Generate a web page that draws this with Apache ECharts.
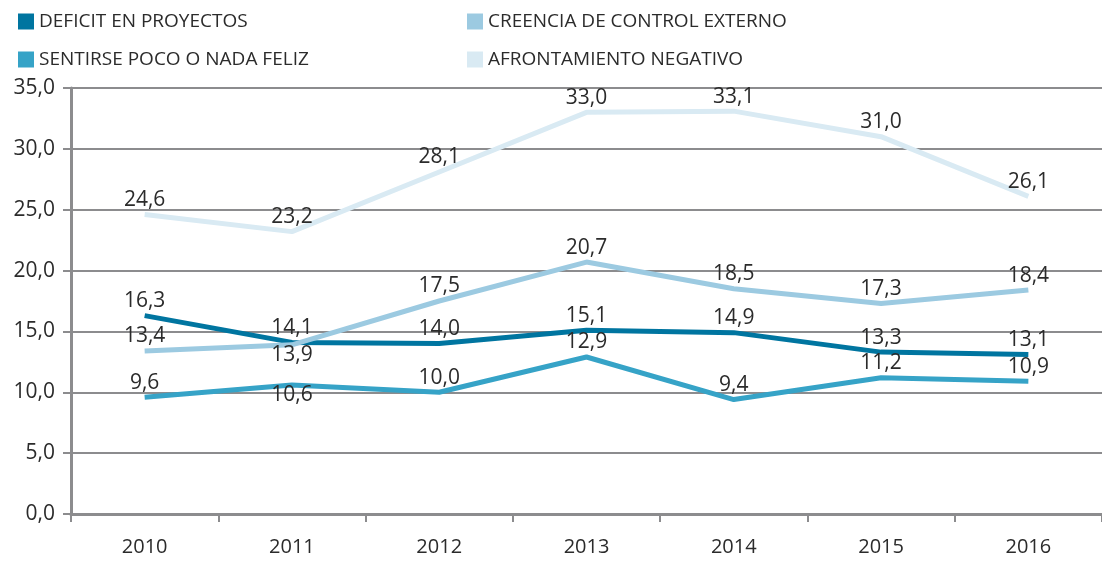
<!DOCTYPE html>
<html>
<head>
<meta charset="utf-8">
<script src="https://cdn.jsdelivr.net/npm/echarts@6/dist/echarts.min.js"></script>
<style>
  html, body { margin: 0; padding: 0; background: #fff; }
  #main { width: 1102px; height: 568px; }
</style>
</head>
<body>
<div id="main"></div>
<script>
// data
const years = ['2010', '2011', '2012', '2013', '2014', '2015', '2016'];
const deficit = [16.3, 14.1, 14.0, 15.1, 14.9, 13.3, 13.1];
const creencia = [13.4, 13.9, 17.5, 20.7, 18.5, 17.3, 18.4];
const sentirse = [9.6, 10.6, 10.0, 12.9, 9.4, 11.2, 10.9];
const afrontamiento = [24.6, 23.2, 28.1, 33.0, 33.1, 31.0, 26.1];

const FONT = '"Open Sans", "DejaVu Sans", sans-serif';
const TXT = '#2b2b2b';
const comma = v => Number(v).toFixed(1).replace('.', ',');

// which points carry their label underneath the line
const below = { 'CREENCIA DE CONTROL EXTERNO': [1], 'SENTIRSE POCO O NADA FELIZ': [1] };

function makeSeries(name, values, color) {
  const idx = below[name] || [];
  return {
    name: name,
    type: 'line',
    data: values.map((v, i) => idx.indexOf(i) >= 0 ? { value: v, label: { position: 'bottom', distance: 0 } } : v),
    symbol: 'circle',
    symbolSize: 0,
    showSymbol: true,
    lineStyle: { color: color, width: 5 },
    itemStyle: { color: color },
    label: {
      show: true,
      position: 'top',
      distance: 4,
      color: TXT,
      fontFamily: FONT,
      fontSize: 21,
      formatter: p => comma(p.value)
    }
  };
}

const chart = echarts.init(document.getElementById('main'));
const legendStyle = {
  orient: 'vertical',
  top: 12,
  padding: 0,
  icon: 'rect',
  itemWidth: 16,
  itemHeight: 16,
  itemGap: 19,
  textStyle: { color: TXT, fontFamily: FONT, fontSize: 19 }
};

chart.setOption({
  animation: false,
  legend: [
    Object.assign({ left: 18, data: ['DEFICIT EN PROYECTOS', 'SENTIRSE POCO O NADA FELIZ'] }, legendStyle),
    Object.assign({ left: 467, data: ['CREENCIA DE CONTROL EXTERNO', 'AFRONTAMIENTO NEGATIVO'] }, legendStyle)
  ],
  grid: { left: 71, right: -13, top: 88, bottom: 54 },
  xAxis: {
    type: 'category',
    data: years,
    boundaryGap: true,
    axisLine: { lineStyle: { color: '#8c8c8e', width: 3 } },
    axisTick: { show: true, length: 8, lineStyle: { color: '#8c8c8e', width: 2 } },
    axisLabel: { color: TXT, fontFamily: FONT, fontSize: 20, margin: 23 }
  },
  yAxis: {
    type: 'value',
    min: 0,
    max: 35,
    interval: 5,
    axisLine: { show: true, lineStyle: { color: '#8c8c8e', width: 3 } },
    axisTick: { show: true, length: 8, lineStyle: { color: '#8c8c8e', width: 2 } },
    splitLine: { lineStyle: { color: '#8c8c8e', width: 2 } },
    axisLabel: { color: TXT, fontFamily: FONT, fontSize: 21, margin: 16, formatter: comma }
  },
  series: [
    makeSeries('DEFICIT EN PROYECTOS', deficit, '#0075a0'),
    makeSeries('CREENCIA DE CONTROL EXTERNO', creencia, '#9ccae1'),
    makeSeries('SENTIRSE POCO O NADA FELIZ', sentirse, '#36a3c7'),
    makeSeries('AFRONTAMIENTO NEGATIVO', afrontamiento, '#d9eaf3')
  ]
});
</script>
</body>
</html>
